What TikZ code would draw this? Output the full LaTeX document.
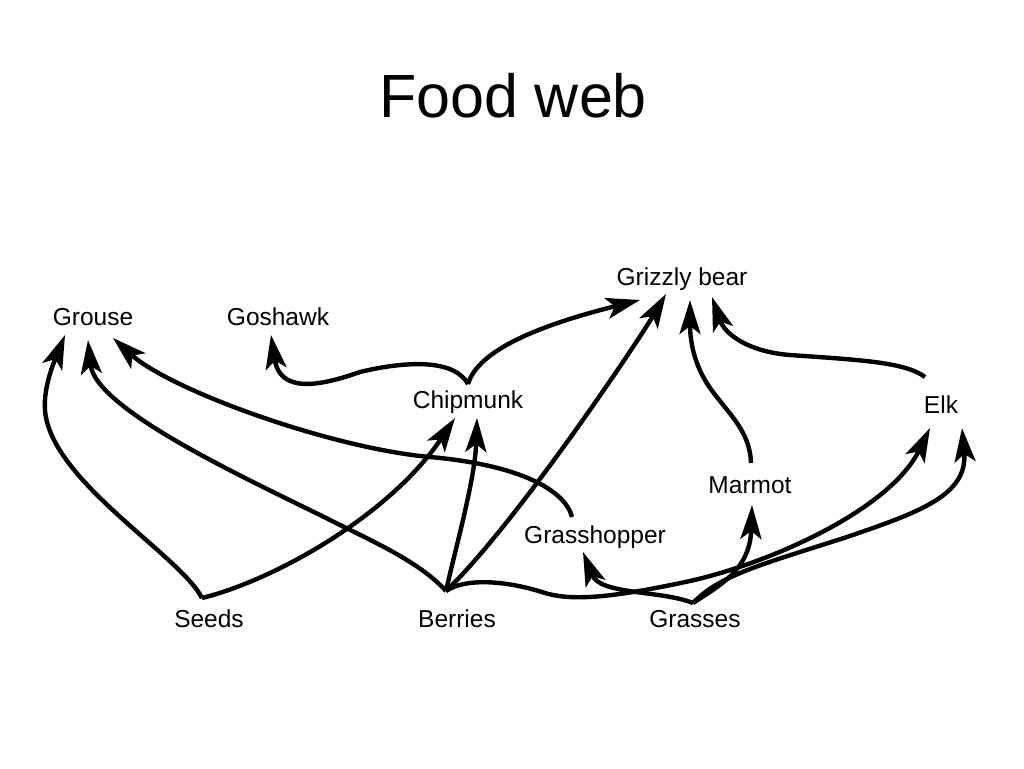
\documentclass[tikz,border=0pt]{standalone}
\usepackage{fontspec}
\setmainfont{Liberation Sans}
\usetikzlibrary{arrows.meta}
\begin{document}
\begin{tikzpicture}[x=1pt,y=-1pt,
  lbl/.style={font=\fontsize{24.5}{28}\selectfont, inner sep=0pt, anchor=base},
  feed/.style={line width=4.4pt, -{Stealth[length=34pt,width=21pt,inset=8pt]}}]
\useasboundingbox[fill=white] (0,0) rectangle (1024,768);
% title
\node[font=\fontsize{61}{70}\selectfont, inner sep=0pt, anchor=base] (title) at (513,117) {Food web};
% organisms
\node[lbl] (grouse)      at (93,325)  {Grouse};
\node[lbl] (goshawk)     at (278,325) {Goshawk};
\node[lbl] (grizzly)     at (682,285) {Grizzly bear};
\node[lbl] (chipmunk)    at (468,408) {Chipmunk};
\node[lbl] (elk)         at (941,413) {Elk};
\node[lbl] (marmot)      at (750,493) {Marmot};
\node[lbl] (grasshopper) at (595,543) {Grasshopper};
\node[lbl] (seeds)       at (209,627) {Seeds};
\node[lbl] (berries)     at (457,627) {Berries};
\node[lbl] (grasses)     at (695,627) {Grasses};
% connector ends
\coordinate (sj) at (202,598);
\coordinate (bj) at (446,591);
\coordinate (gj) at (693,603);
\coordinate (cj) at (468,384);
\coordinate (ghtop) at (572,517);
\coordinate (mtop) at (751,463);
\coordinate (etop) at (925,377);
\coordinate (gr1) at (65,335);
\coordinate (gr2) at (88,340);
\coordinate (gr3) at (113,338);
\coordinate (gw) at (271,335);
\coordinate (ch1) at (455,418);
\coordinate (ch2) at (477,418);
\coordinate (gb0) at (640,300);
\coordinate (gb1) at (666,294);
\coordinate (gb2) at (690,300);
\coordinate (gb3) at (712,297);
\coordinate (el1) at (930,428);
\coordinate (el2) at (962,428);
\coordinate (mt) at (752,505);
\coordinate (gh) at (583,552);
% Seeds
\draw[feed] (sj) .. controls (180,555) and (50,480) .. (45,410) .. controls (43,385) and (57,355) .. (gr1);
\draw[feed] (sj) .. controls (275,580) and (390,515) .. (ch1);
% Berries
\draw[feed] (bj) .. controls (420,562) and (372,541) .. (330,520) .. controls (250,480) and (95,410) .. (gr2);
\draw[feed] (bj) .. controls (455,550) and (475,480) .. (ch2);
\draw[feed] (bj) .. controls (515,525) and (637,343) .. (gb1);
\draw[feed] (bj) .. controls (465,578) and (505,580) .. (545,593) .. controls (575,602) and (620,596) .. (690,581) .. controls (770,563) and (890,510) .. (el1);
% Grasshopper
\draw[feed] (ghtop) .. controls (565,490) and (520,465) .. (430,457) .. controls (330,448) and (170,390) .. (gr3);
% Chipmunk
\draw[feed] (cj) .. controls (455,360) and (410,360) .. (360,372) .. controls (320,386) and (280,394) .. (gw);
\draw[feed] (cj) .. controls (478,350) and (540,325) .. (gb0);
% Marmot
\draw[feed] (mtop) .. controls (750,432) and (730,415) .. (713,392) .. controls (696,370) and (690,345) .. (gb2);
% Elk
\draw[feed] (etop) .. controls (905,362) and (860,360) .. (790,355) .. controls (750,352) and (725,335) .. (gb3);
% Grasses
\draw[feed] (gj) .. controls (720,575) and (760,565) .. (847,537) .. controls (920,512) and (968,495) .. (el2);
\draw[feed] (gj) .. controls (720,585) and (750,570) .. (mt);
\draw[feed] (gj) .. controls (660,590) and (600,595) .. (gh);
\end{tikzpicture}
\end{document}
